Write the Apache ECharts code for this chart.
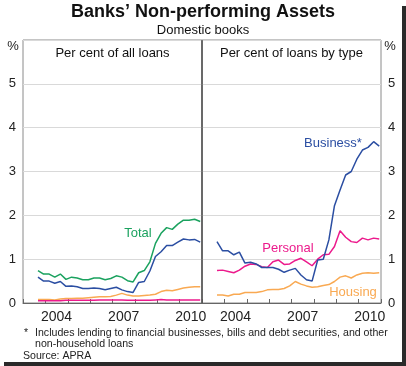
<!DOCTYPE html>
<html><head><meta charset="utf-8">
<script src="https://cdn.jsdelivr.net/npm/echarts@6/dist/echarts.min.js"></script>
<style>html,body{margin:0;padding:0;background:#fff}#c{width:406px;height:366px}</style>
</head><body><div id="c"></div>
<script>
// Quarterly, Sep 2003 .. Dec 2010
const startYear = 2003.67;
const quarters = 30;
// Left panel: per cent of all loans
const totalAll    = [0.74,0.66,0.66,0.59,0.66,0.54,0.59,0.57,0.53,0.53,0.57,0.57,0.53,0.56,0.62,0.59,0.51,0.48,0.69,0.74,0.94,1.36,1.59,1.72,1.68,1.80,1.89,1.89,1.91,1.86];
const businessAll = [0.59,0.50,0.50,0.45,0.49,0.38,0.39,0.37,0.33,0.33,0.34,0.33,0.30,0.33,0.36,0.30,0.26,0.24,0.47,0.49,0.73,1.06,1.17,1.31,1.31,1.39,1.46,1.44,1.45,1.39];
const housingAll  = [0.08,0.08,0.08,0.07,0.09,0.10,0.10,0.11,0.11,0.12,0.13,0.14,0.14,0.15,0.18,0.22,0.18,0.16,0.16,0.17,0.18,0.20,0.26,0.29,0.28,0.31,0.34,0.36,0.37,0.37];
const personalAll = [0.05,0.05,0.05,0.05,0.05,0.06,0.06,0.06,0.06,0.06,0.06,0.07,0.07,0.07,0.07,0.07,0.06,0.06,0.06,0.06,0.06,0.07,0.08,0.07,0.07,0.07,0.07,0.07,0.07,0.07];
// Right panel: per cent of loans by type
const businessType = [1.40,1.19,1.19,1.10,1.16,0.91,0.93,0.89,0.81,0.81,0.81,0.77,0.70,0.75,0.79,0.64,0.53,0.50,0.98,1.00,1.44,2.22,2.58,2.92,3.00,3.28,3.49,3.55,3.68,3.58];
const personalType = [0.74,0.75,0.72,0.69,0.75,0.84,0.89,0.88,0.83,0.81,0.94,0.98,0.88,0.89,0.97,1.02,0.94,0.85,1.00,1.10,1.11,1.29,1.65,1.50,1.40,1.38,1.48,1.44,1.48,1.46];
const housingType  = [0.18,0.18,0.16,0.20,0.20,0.24,0.24,0.24,0.26,0.30,0.31,0.31,0.33,0.39,0.49,0.43,0.39,0.36,0.37,0.40,0.42,0.49,0.59,0.62,0.57,0.64,0.68,0.69,0.68,0.69];
const yearLabels = [2004, 2007, 2010];
const yTicks = [0,1,2,3,4,5];

const times = [];
for (let i = 0; i < quarters; i++) times.push(startYear + 0.25 * i);
const pair = arr => arr.map((v, i) => [times[i], v]);

const C = {green:'#1ba25f', blue:'#2b4ea2', pink:'#ec1a8c', orange:'#f9a952'};
const FONT = "'Liberation Sans', Arial, sans-serif";

const chart = echarts.init(document.getElementById('c'), null, {renderer:'canvas'});

function dataX(g){
  return {gridIndex:g, type:'value', min:2003, max:2011, interval:1, position:'bottom',
    axisLine:{show:true, lineStyle:{color:'#666', width:1}},
    axisTick:{show:true, inside:true, length:4, lineStyle:{color:'#666'}},
    axisLabel:{show:false}, splitLine:{show:false}};
}
function labelX(g){
  return {gridIndex:g, type:'value', min:2002.5, max:2010.5, interval:0.5, position:'bottom',
    axisLine:{show:false}, axisTick:{show:false}, splitLine:{show:false},
    axisLabel:{show:true, margin:7, color:'#222', fontSize:14, fontFamily:FONT,
      formatter: v => yearLabels.indexOf(v) >= 0 ? String(v) : ''}};
}
function yAx(g, pos){
  return {gridIndex:g, type:'value', min:0, max:6, interval:1, position:pos,
    axisLine:{show:false}, axisTick:{show:false},
    splitLine:{show:true, lineStyle:{color:'#d9d9d9', width:1}},
    axisLabel:{show: true, margin: 7, color:'#222', fontSize:13, fontFamily:FONT,
      formatter: v => yTicks.indexOf(v) >= 0 ? String(v) : ''}};
}
function line(name, xi, yi, arr, color){
  return {name, type:'line', xAxisIndex:xi, yAxisIndex:yi, data:pair(arr), showSymbol:false,
    symbol:'none', lineStyle:{color, width:1.5}, itemStyle:{color}, animation:false, z:3};
}

chart.setOption({
  animation:false,
  backgroundColor:'#fff',
  grid:[
    {left:23, top:40, width:179, height:263, show:true, borderColor:'#8a8a8a', borderWidth:1, backgroundColor:'transparent'},
    {left:202, top:40, width:179, height:263, show:true, borderColor:'#8a8a8a', borderWidth:1, backgroundColor:'transparent'}
  ],
  xAxis:[dataX(0), labelX(0), dataX(1), labelX(1)],
  yAxis:[yAx(0,'left'), yAx(1,'right')],
  series:[
    line('Housing',0,0,housingAll,C.orange),
    line('Personal',0,0,personalAll,C.pink),
    line('Business',0,0,businessAll,C.blue),
    line('Total',0,0,totalAll,C.green),
    line('Housing',2,1,housingType,C.orange),
    line('Personal',2,1,personalType,C.pink),
    line('Business',2,1,businessType,C.blue)
  ],
  graphic:[
    {type:'text', left:'center', top:3, style:{text:'Banks’ Non-performing Assets', font:"bold 18px "+FONT, fill:'#111'}},
    {type:'text', left:'center', top:24, style:{text:'Domestic books', font:"13px "+FONT, fill:'#111'}},
    {type:'text', x:112.5, y:53, style:{text:'Per cent of all loans', font:"13px "+FONT, fill:'#111', align:'center', verticalAlign:'middle'}},
    {type:'text', x:291.5, y:53, style:{text:'Per cent of loans by type', font:"13px "+FONT, fill:'#111', align:'center', verticalAlign:'middle'}},
    {type:'text', x:13, y:46, style:{text:'%', font:"13px "+FONT, fill:'#222', align:'center', verticalAlign:'middle'}},
    {type:'text', x:390, y:46, style:{text:'%', font:"13px "+FONT, fill:'#222', align:'center', verticalAlign:'middle'}},
    {type:'line', shape:{x1:202, y1:40, x2:202, y2:303}, style:{stroke:'#555', lineWidth:1.5}, z:10},
    {type:'text', x:138, y:233, style:{text:'Total', font:"13px "+FONT, fill:C.green, align:'center', verticalAlign:'middle'}},
    {type:'text', x:333, y:143, style:{text:'Business*', font:"13px "+FONT, fill:C.blue, align:'center', verticalAlign:'middle'}},
    {type:'text', x:288, y:248, style:{text:'Personal', font:"13px "+FONT, fill:C.pink, align:'center', verticalAlign:'middle'}},
    {type:'text', x:353, y:292, style:{text:'Housing', font:"13px "+FONT, fill:C.orange, align:'center', verticalAlign:'middle'}},
    {type:'text', x:24, y:333, style:{text:'*', font:"10.5px "+FONT, fill:'#222', verticalAlign:'middle'}},
    {type:'text', x:35, y:333, style:{text:'Includes lending to financial businesses, bills and debt securities, and other', font:"10.6px "+FONT, fill:'#222', verticalAlign:'middle'}},
    {type:'text', x:35, y:344.5, style:{text:'non-household loans', font:"10.6px "+FONT, fill:'#222', verticalAlign:'middle'}},
    {type:'text', x:23, y:356, style:{text:'Source: APRA', font:"10.6px "+FONT, fill:'#222', verticalAlign:'middle'}},
    {type:'rect', shape:{x:402, y:6, width:4, height:360}, style:{fill:'#2a2a2a'}},
    {type:'rect', shape:{x:4, y:362, width:402, height:4}, style:{fill:'#2a2a2a'}}
  ]
});
</script></body></html>
